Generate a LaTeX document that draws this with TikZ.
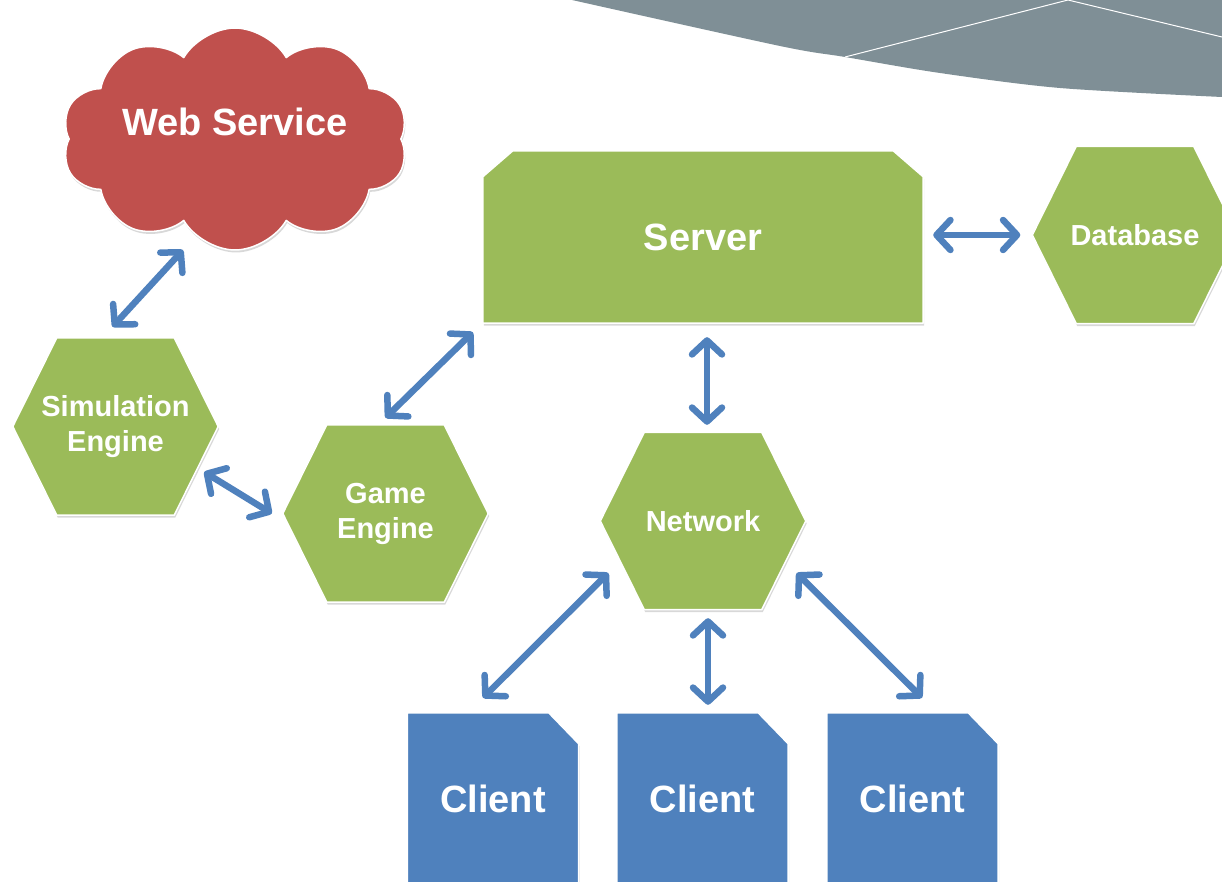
\documentclass[tikz,border=0pt]{standalone}
\usepackage{fontspec}
\setmainfont{Liberation Sans}
\usetikzlibrary{shapes.symbols,arrows.meta,shadows,backgrounds}
\definecolor{hexgreen}{HTML}{9BBB59}
\definecolor{clientblue}{HTML}{4F81BD}
\definecolor{cloudred}{HTML}{C0504D}
\definecolor{bandgray}{RGB}{127,143,150}
\tikzset{
  txt/.style={text=white, inner sep=0pt, font=\bfseries\fontsize{38}{42}\selectfont},
  hexa/.style={txt, align=center, minimum width=205pt, minimum height=177pt,
    font=\bfseries\fontsize{29}{35}\selectfont},
  serverbox/.style={txt, minimum width=440pt, minimum height=172pt},
  clientbox/.style={txt, minimum width=171pt, minimum height=171pt},
  outline/.style={draw=white, line width=1.5pt, line join=round,
    drop shadow={shadow xshift=1pt, shadow yshift=-2.5pt, opacity=.3}},
  webcloud/.style={outline, cloud, cloud puffs=10, cloud puff arc=120,
    cloud ignores aspect, fill=cloudred,
    minimum width=346pt, minimum height=222pt},
  link/.style={{Straight Barb[length=14pt,width=30pt,round]}-{Straight Barb[length=14pt,width=30pt,round]},
    line width=6.5pt, draw=clientblue, line cap=round}
}
\begin{document}
\begin{tikzpicture}[x=1pt,y=-1pt]
\useasboundingbox (0,0) rectangle (1222,882);

\node[webcloud] (web) at (235,139) {};
\node[txt] (webtext) at ([shift={(0,-17)}]web.center) {Web Service};
\node[serverbox] (server) at (703,237) {Server};
\node[hexa] (db) at (1135,235) {Database};
\node[hexa] (sim) at (115.5,426.5) {Simulation\\Engine};
\node[hexa] (game) at (385.5,513.5) {Game\\Engine};
\node[hexa] (net) at (703,521) {Network};
\node[clientbox] (c1) at (493,798.5) {Client};
\node[clientbox] (c2) at (702.5,798.5) {Client};
\node[clientbox] (c3) at (912.5,798.5) {Client};

\begin{scope}[on background layer]
\fill[white] (0,0) rectangle (1222,882);
\fill[bandgray] plot[smooth] coordinates {(572,0) (780,46) (845,57) (940,73) (1060,88) (1222,97)} -- (1222,0) -- cycle;
\draw[white,line width=1pt] (845,57) -- (1068,0) -- (1222,37);
\foreach \n in {db,sim,game,net}
  \draw[outline,fill=hexgreen] (\n.west) -- ([shift={(44,0)}]\n.north west) -- ([shift={(-44,0)}]\n.north east)
    -- (\n.east) -- ([shift={(-44,0)}]\n.south east) -- ([shift={(44,0)}]\n.south west) -- cycle;
\draw[outline,fill=hexgreen] (server.south west) -- ([shift={(0,26)}]server.north west) -- ([shift={(30,0)}]server.north west)
  -- ([shift={(-30,0)}]server.north east) -- ([shift={(0,26)}]server.north east) -- (server.south east) -- cycle;
\foreach \n in {c1,c2,c3}
  \draw[outline,fill=clientblue] (\n.south west) -- (\n.north west) -- ([shift={(-30,0)}]\n.north east)
    -- ([shift={(0,31)}]\n.north east) -- (\n.south east) -- cycle;
\end{scope}

\draw[link] ([shift={(-52,111)}]web.center) -- ([shift={(-3,-11)}]sim.north);
\draw[link] ([shift={(-10,9)}]server.south west) -- ([shift={(0,-7)}]game.north);
\draw[link] ([shift={(-14,45.5)}]sim.east) -- ([shift={(-11,0)}]game.west);
\draw[link] ([shift={(10,-2)}]server.east) -- ([shift={(-12,0)}]db.west);
\draw[link] ([shift={(4,14)}]server.south) -- ([shift={(4,-7.5)}]net.north);
\draw[link] ([shift={(8,52)}]net.west) -- ([shift={(-10,-15)}]c1.north);
\draw[link] ([shift={(5,8.5)}]net.south) -- ([shift={(5.5,-8)}]c2.north);
\draw[link] ([shift={(-9,52)}]net.east) -- ([shift={(9.5,-15)}]c3.north);
\end{tikzpicture}
\end{document}
